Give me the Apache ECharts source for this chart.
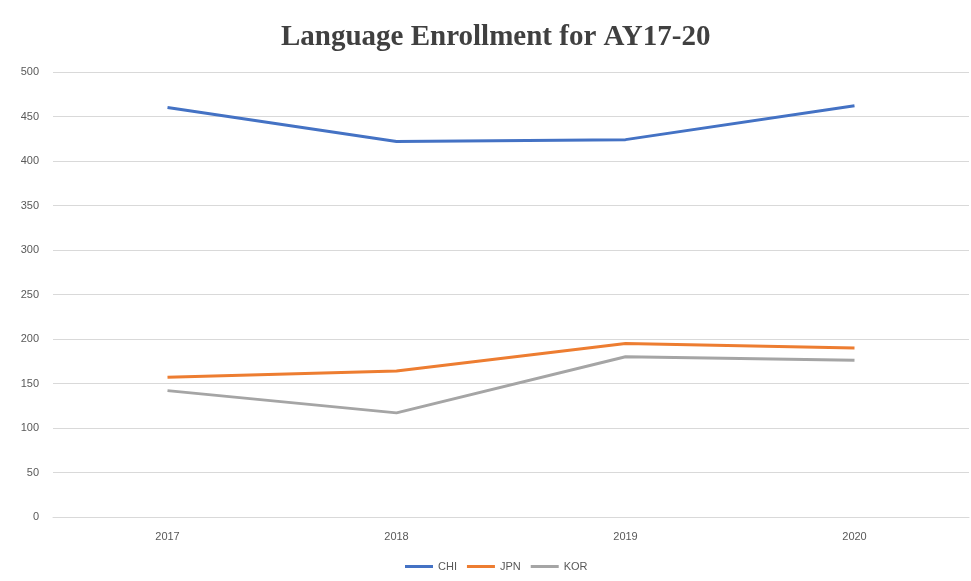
<!DOCTYPE html>
<html>
<head>
<meta charset="utf-8">
<script src="https://cdn.jsdelivr.net/npm/echarts@6/dist/echarts.min.js"></script>
<style>
  html, body { margin: 0; padding: 0; background: #fff; }
  #myChart { width: 971px; height: 581px; }
</style>
</head>
<body>
<div id="myChart"></div>
<script>
let years = ['2017', '2018', '2019', '2020']
let chi = [460, 422, 424, 462]
let jpn = [157, 164, 195, 190]
let kor = [142, 117, 180, 176]
let yTicks = { min: 0, max: 500, interval: 50 }

let colors = ['#4472C4', '#ED7D31', '#A5A5A5']

function makeLine(name, data) {
    return {
        name: name,
        type: 'line',
        data: data,
        symbol: 'none',
        lineStyle: { width: 3 }
    }
}

let myChart = echarts.init(document.getElementById('myChart'))

let option = {
    animation: false,
    color: colors,
    title: {
        text: 'Language Enrollment for AY17-20',
        left: 276,
        top: 18,
        textStyle: {
            fontFamily: 'Liberation Serif',
            fontWeight: 'bold',
            fontSize: 29,
            color: '#404040'
        }
    },
    legend: {
        bottom: 4,
        left: 400,
        itemWidth: 28,
        itemHeight: 3,
        itemGap: 10,
        icon: 'rect',
        textStyle: { color: '#595959', fontSize: 11, fontFamily: 'Liberation Sans Narrow, Liberation Sans' },
        data: ['CHI', 'JPN', 'KOR']
    },
    grid: { left: 53, right: 2, top: 72, bottom: 64 },
    xAxis: {
        type: 'category',
        data: years,
        axisLine: { lineStyle: { color: '#d9d9d9', width: 1 } },
        axisTick: { show: false },
        axisLabel: { color: '#595959', fontSize: 11, margin: 14, fontFamily: 'Liberation Sans Narrow, Liberation Sans' }
    },
    yAxis: {
        type: 'value',
        min: yTicks.min,
        max: yTicks.max,
        interval: yTicks.interval,
        axisLine: { show: false },
        axisTick: { show: false },
        axisLabel: { color: '#595959', fontSize: 11, margin: 14, fontFamily: 'Liberation Sans Narrow, Liberation Sans' },
        splitLine: { lineStyle: { color: '#d9d9d9', width: 1 } }
    },
    series: [
        makeLine('CHI', chi),
        makeLine('JPN', jpn),
        makeLine('KOR', kor)
    ]
}

myChart.setOption(option, true)
</script>
</body>
</html>
